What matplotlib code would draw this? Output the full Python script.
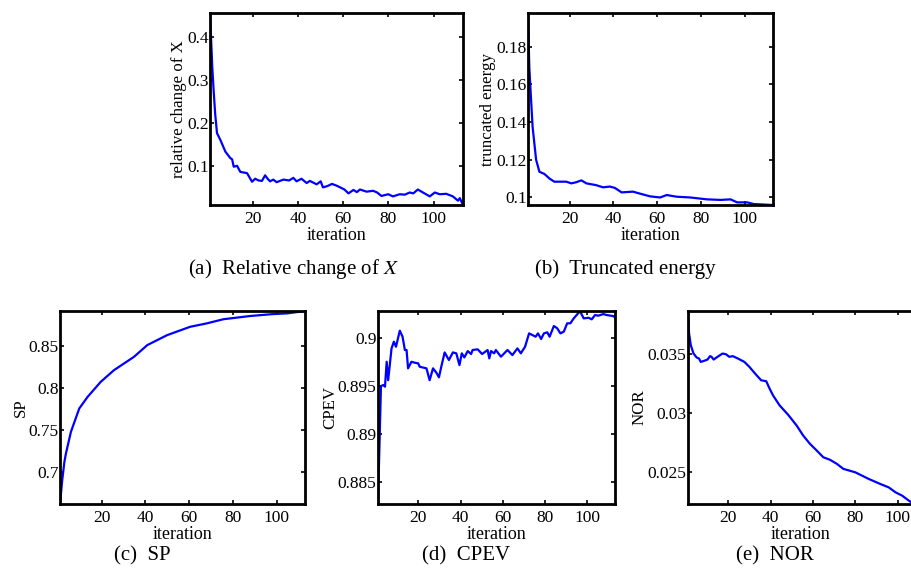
import matplotlib
matplotlib.use("Agg")
import matplotlib.pyplot as plt
from matplotlib.ticker import FormatStrFormatter

plt.rcParams["font.family"] = ["Liberation Serif", "DejaVu Serif"]
plt.rcParams["mathtext.fontset"] = "stix"

# (a) relative change of X
rel_x = [1, 2, 2.6, 3.3, 4.1, 5.6, 7.8, 10, 10.8, 11.5, 13, 14.4, 17.4, 19.6, 21, 22.5,
         24, 25.4, 26.5, 27.6, 29, 30.5, 33.5, 36, 37.9, 39.3, 41.5, 43.8, 45.2, 48.2,
         50, 51, 53, 55, 57, 58.6, 60.5, 62.3, 64.5, 66, 67.4, 70.3, 73.2, 75, 76.9,
         79.9, 82, 85, 87.2, 89.4, 91, 93, 95.3, 98.3, 100.5, 102.7, 105.6, 108.5,
         110.8, 111.6, 113]
rel_y = [0.455, 0.33, 0.276, 0.22, 0.176, 0.16, 0.133, 0.118, 0.115, 0.098, 0.100, 0.086,
         0.083, 0.063, 0.070, 0.066, 0.065, 0.078, 0.070, 0.064, 0.068, 0.062, 0.068,
         0.066, 0.072, 0.064, 0.070, 0.060, 0.065, 0.057, 0.064, 0.050, 0.053, 0.058,
         0.054, 0.050, 0.045, 0.036, 0.044, 0.039, 0.045, 0.040, 0.042, 0.038, 0.030,
         0.034, 0.029, 0.034, 0.033, 0.038, 0.036, 0.045, 0.038, 0.029, 0.038, 0.034,
         0.035, 0.029, 0.019, 0.025, 0.009]

# (b) truncated energy
te_x = [1, 1.6, 2.4, 3.1, 4.7, 6.2, 8.5, 10.8, 13, 18.5, 20.8, 23, 25.4, 27.7, 32, 35.3,
        38.4, 40.7, 43.8, 49, 52, 56.8, 61.4, 64.4, 69, 75.2, 82.8, 89, 93.6, 96.6,
        101.2, 104.3, 113]
te_y = [0.198, 0.169, 0.152, 0.1375, 0.120, 0.1136, 0.1124, 0.110, 0.1083, 0.1083, 0.1074,
        0.108, 0.109, 0.1074, 0.1065, 0.1053, 0.1057, 0.105, 0.1026, 0.103, 0.102,
        0.1005, 0.0999, 0.1012, 0.1003, 0.0999, 0.0989, 0.0986, 0.0989, 0.0973, 0.0973,
        0.0964, 0.0959]

# (c) SP
sp_x = [1, 2, 3, 3.7, 6, 9.8, 13.6, 19.6, 25.7, 34.8, 40.9, 50, 60.5, 68, 75.7, 87.8,
        97.7, 105, 113]
sp_y = [0.662, 0.690, 0.712, 0.722, 0.748, 0.7757, 0.7895, 0.8074, 0.8214, 0.8372, 0.8512,
        0.8631, 0.873, 0.877, 0.882, 0.8858, 0.888, 0.889, 0.8918]

# (d) CPEV
cpev_x = [1, 2.4, 3.5, 4.3, 5.1, 5.8, 7.4, 8.5, 9.5, 11.3, 12.6, 13.7, 14.5, 15.2, 16.8,
          18.4, 20, 20.7, 23.9, 25.4, 27, 28.6, 29.8, 30.9, 32.5, 34.5, 36.4, 38, 39.5,
          40.6, 41.8, 43.4, 45, 45.7, 48.1, 50.2, 52.8, 53.6, 54.4, 55.9, 56.7, 59.1,
          62.2, 64.5, 66.9, 68.5, 70.5, 72.4, 73.9, 75.5, 76.6, 78.1, 79.4, 81, 82.1,
          84.1, 85.7, 87.2, 88.8, 90.4, 91.9, 93.5, 95.8, 96.6, 98.2, 100.5, 102, 103.6,
          105.1, 107.5, 109, 112.1, 113]
cpev_y = [0.88274, 0.8950, 0.89512, 0.89494, 0.89755, 0.89562, 0.89895, 0.89965, 0.89912,
          0.9008, 0.90017, 0.89878, 0.89878, 0.89686, 0.89755, 0.89745, 0.89738, 0.89703,
          0.89686, 0.89562, 0.89686, 0.8964, 0.89592, 0.89703, 0.89853, 0.89773, 0.89853,
          0.89843, 0.8972, 0.89843, 0.898, 0.89867, 0.89836, 0.89878, 0.89885, 0.89836,
          0.89878, 0.8979, 0.89867, 0.89843, 0.89878, 0.89808, 0.89878, 0.89825, 0.89895,
          0.89843, 0.89912, 0.90052, 0.90035, 0.90017, 0.90052, 0.89993, 0.90052, 0.90063,
          0.90017, 0.90129, 0.90105, 0.90052, 0.9007, 0.90157, 0.90157, 0.90209, 0.90268,
          0.90278, 0.90209, 0.90215, 0.90199, 0.90244, 0.90237, 0.90254, 0.90244, 0.90233,
          0.9022]

# (e) NOR
nor_x = [1, 1.5, 2.3, 3.6, 5.1, 6.2, 7, 8.6, 10.2, 11.4, 12.1, 13.1, 14.9, 17.3, 18.9,
         20.5, 22.1, 24.5, 27.6, 30, 32.4, 35.5, 37.9, 39.5, 41.1, 44.2, 48.2, 52.2, 55.3,
         58.5, 61.7, 64.8, 68, 71.2, 74.3, 79.9, 86.2, 91.7, 95.7, 98.9, 102, 105.2, 107.6]
nor_y = [0.0387, 0.0368, 0.0358, 0.03508, 0.03474, 0.03466, 0.03437, 0.03446, 0.03457,
         0.03486, 0.0348, 0.03457, 0.0348, 0.03508, 0.03502, 0.0348, 0.03486, 0.03466,
         0.03437, 0.03394, 0.03343, 0.03281, 0.03273, 0.0321, 0.03153, 0.03068, 0.02989,
         0.02898, 0.02813, 0.02742, 0.02685, 0.02628, 0.02606, 0.02572, 0.02529, 0.025,
         0.02444, 0.02401, 0.02372, 0.0233, 0.02302, 0.02259, 0.02231]

x_ticks = [20, 40, 60, 80, 100]

W, H = 912, 576
fig = plt.figure(figsize=(W / 100, H / 100), dpi=100)


def panel(left, right, top, bottom, x, y, xlim, ylim, yticks, ylabel, caption, cap_x,
          right_ticks=True):
    ax = fig.add_axes([left / W, 1 - bottom / H, (right - left) / W, (bottom - top) / H])
    ax.plot(x, y, color="#0000ff", linewidth=1.6)
    ax.set_xlim(*xlim)
    ax.set_ylim(*ylim)
    ax.set_xticks(x_ticks)
    ax.set_yticks(yticks)
    ax.yaxis.set_major_formatter(FormatStrFormatter("%g"))
    ax.tick_params(direction="in", length=3, width=1.2, top=True, right=right_ticks,
                   labelsize=12.5)
    ax.tick_params(axis="y", pad=1)
    ax.tick_params(axis="x", pad=4)
    for s in ax.spines.values():
        s.set_linewidth(2)
    ax.set_xlabel("iteration", fontsize=13, labelpad=0)
    ax.set_ylabel(ylabel, fontsize=12.2, labelpad=0)
    cy = bottom + 64 if bottom < 300 else bottom + 52
    fig.text(cap_x / W, 1 - cy / H, caption, ha="center", va="center", fontsize=15)
    return ax


panel(210, 463, 13, 205, rel_x, rel_y, (1, 113), (0.009, 0.455),
      [0.1, 0.2, 0.3, 0.4], "relative change of X", r"(a)  Relative change of $X$", 293)
panel(528, 773, 13, 205, te_x, te_y, (1, 113), (0.0959, 0.198),
      [0.1, 0.12, 0.14, 0.16, 0.18], "truncated energy", "(b)  Truncated energy", 625)
panel(60, 305, 311, 504, sp_x, sp_y, (1, 113), (0.662, 0.8918),
      [0.7, 0.75, 0.8, 0.85], "SP", "(c)  SP", 142)
panel(378, 615, 311, 504, cpev_x, cpev_y, (1, 113), (0.88267, 0.90286),
      [0.885, 0.89, 0.895, 0.9], "CPEV", "(d)  CPEV", 466)
panel(688, 914, 311, 504, nor_x, nor_y, (1, 107.6), (0.02231, 0.03869),
      [0.025, 0.03, 0.035], "NOR", "(e)  NOR", 775, right_ticks=False)

fig.savefig("out.png", dpi=100)
